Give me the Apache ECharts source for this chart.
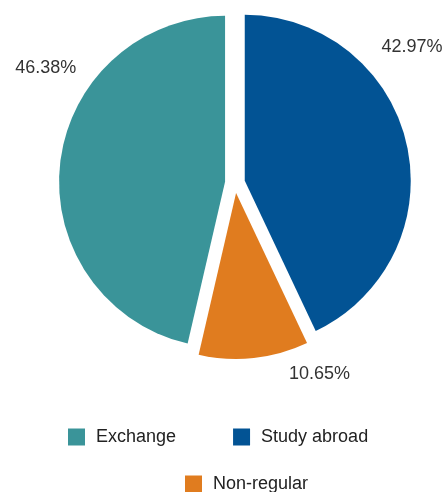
<!DOCTYPE html>
<html>
<head>
<meta charset="utf-8">
<script src="https://cdn.jsdelivr.net/npm/echarts@6/dist/echarts.min.js"></script>
<style>
html,body{margin:0;padding:0;background:#fff;}
#c{width:446px;height:492px;}
</style>
</head>
<body>
<div id="c"></div>
<script>
// Data (clockwise from 12 o'clock)
const categories = ['Study abroad', 'Non-regular', 'Exchange'];
const values = [42.97, 10.65, 46.38];
const legendOrder = ['Exchange', 'Study abroad', 'Non-regular'];

const colors = {'Study abroad': '#025394', 'Non-regular': '#E07C1F', 'Exchange': '#3A9499'};
const labelShift = {'Study abroad': [-40, -95], 'Non-regular': [29, 6], 'Exchange': [31, -94]};

const chart = echarts.init(document.getElementById('c'), null, {renderer: 'canvas'});
const font = 'Liberation Sans, Arial, sans-serif';

chart.setOption({
  animation: false,
  backgroundColor: '#fff',
  legend: [{
    data: legendOrder.slice(0, 2),
    left: 68, top: 428, padding: 0,
    itemWidth: 17, itemHeight: 17, itemGap: 57,
    icon: 'rect',
    selectedMode: false,
    textStyle: {fontFamily: font, fontSize: 18, color: '#222', padding: [4, 0, 0, 6]}
  }, {
    data: legendOrder.slice(2),
    left: 185, top: 475, padding: 0,
    itemWidth: 17, itemHeight: 17,
    icon: 'rect',
    selectedMode: false,
    textStyle: {fontFamily: font, fontSize: 18, color: '#222', padding: [6, 0, 0, 6]}
  }],
  series: [{
    type: 'pie',
    center: [235, 183],
    radius: 166,
    startAngle: 90,
    clockwise: true,
    selectedMode: 'multiple',
    selectedOffset: 10,
    emphasis: {disabled: true},
    data: categories.map((n, i) => ({name: n, value: values[i], selected: true, itemStyle: {color: colors[n]}})),
    label: {
      show: true,
      position: 'outside',
      overflow: 'none',
      formatter: p => p.value.toFixed(2) + '%',
      fontFamily: font, fontSize: 18, color: '#333'
    },
    labelLine: {show: false, length: 10, length2: 0},
    labelLayout: p => {
      const s = labelShift[categories[p.dataIndex]];
      return {dx: s[0], dy: s[1]};
    }
  }]
});
</script>
</body>
</html>
